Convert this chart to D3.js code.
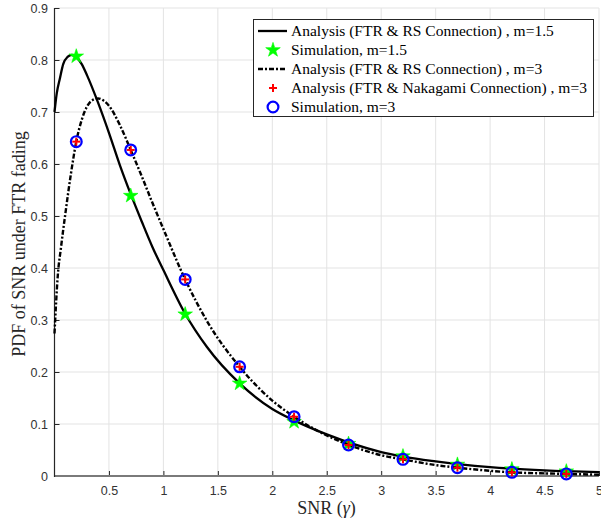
<!DOCTYPE html>
<html>
<head>
<meta charset="utf-8">
<script src="https://cdn.jsdelivr.net/npm/d3@7"></script>
<style>
  html, body { margin: 0; padding: 0; background: #fff; }
  svg { display: block; }
</style>
</head>
<body>
<svg id="chart" width="601" height="523"></svg>
<script>
// ---- data ----
const anaX15 = [0, 0.02, 0.05, 0.08, 0.12, 0.16, 0.2, 0.25, 0.3, 0.4, 0.5, 0.6, 0.7, 0.8, 0.9, 1.0, 1.2, 1.4, 1.7, 2.0, 2.2, 2.5, 3.0, 3.5, 4.0, 4.5, 5.0];
const anaY15 = [0.70, 0.735, 0.765, 0.792, 0.806, 0.81, 0.806, 0.792, 0.77, 0.718, 0.66, 0.598, 0.542, 0.49, 0.44, 0.396, 0.312, 0.248, 0.178, 0.129, 0.107, 0.08, 0.046, 0.028, 0.017, 0.011, 0.0075];

const anaX3 = [0, 0.03, 0.06, 0.1, 0.15, 0.2, 0.25, 0.3, 0.35, 0.4, 0.45, 0.5, 0.6, 0.7, 0.8, 0.9, 1.0, 1.2, 1.4, 1.7, 2.0, 2.2, 2.5, 2.7, 3.0, 3.2, 3.5, 3.7, 4.0, 4.2, 4.5, 4.7, 5.0];
const anaY3 = [0.274, 0.385, 0.44, 0.505, 0.58, 0.643, 0.685, 0.711, 0.723, 0.726, 0.722, 0.712, 0.675, 0.627, 0.577, 0.525, 0.475, 0.378, 0.298, 0.21, 0.145, 0.114, 0.078, 0.06, 0.04, 0.032, 0.021, 0.016, 0.01, 0.007, 0.005, 0.004, 0.0025];

const simX = [0.2, 0.7, 1.2, 1.7, 2.2, 2.7, 3.2, 3.7, 4.2, 4.7];
const simY15 = [0.807, 0.539, 0.311, 0.178, 0.104, 0.062, 0.038, 0.022, 0.013, 0.009];
const nakY3 = [0.643, 0.627, 0.378, 0.210, 0.114, 0.0596, 0.032, 0.016, 0.007, 0.004];
const simY3 = [0.643, 0.627, 0.378, 0.210, 0.114, 0.0596, 0.032, 0.016, 0.007, 0.004];

const xTicks = [0.5, 1, 1.5, 2, 2.5, 3, 3.5, 4, 4.5, 5];
const xTickLabels = ["0.5", "1", "1.5", "2", "2.5", "3", "3.5", "4", "4.5", "5"];
const yTicks = [0, 0.1, 0.2, 0.3, 0.4, 0.5, 0.6, 0.7, 0.8, 0.9];
const yTickLabels = ["0", "0.1", "0.2", "0.3", "0.4", "0.5", "0.6", "0.7", "0.8", "0.9"];

const legendLabels = [
  "Analysis (FTR & RS Connection) , m=1.5",
  "Simulation, m=1.5",
  "Analysis (FTR & RS Connection) , m=3",
  "Analysis (FTR & Nakagami Connection) , m=3",
  "Simulation, m=3"
];
const xLabelParts = ["SNR (", "\u03B3", ")"];
const yLabel = "PDF of SNR under FTR fading";

// ---- drawing ----
const svg = d3.select("#chart");
const x = d3.scaleLinear().domain([0, 5]).range([54.5, 599]);
const y = d3.scaleLinear().domain([0, 0.9]).range([476, 8]);

const serif = "'Liberation Serif', 'Times New Roman', Times, serif";
const sans = "'Liberation Sans', Arial, Helvetica, sans-serif";
const dashDot = "5,2,2,2";

// grid
const grid = svg.append("g");
grid.selectAll("line.gx").data(xTicks).join("line")
  .attr("x1", d => x(d)).attr("x2", d => x(d))
  .attr("y1", y(0)).attr("y2", y(0.9))
  .attr("stroke", "#e3e3e3").attr("stroke-width", 1);
grid.selectAll("line.gy").data(yTicks.filter(d => d > 0)).join("line")
  .attr("x1", x(0)).attr("x2", x(5))
  .attr("y1", d => y(d)).attr("y2", d => y(d))
  .attr("stroke", "#e3e3e3").attr("stroke-width", 1);

// axes
const xAxis = d3.axisBottom(x).tickValues(xTicks)
  .tickFormat((d, i) => xTickLabels[i]).tickSize(-5).tickPadding(10.5);
const gx = svg.append("g").attr("transform", `translate(0,${y(0)})`).call(xAxis);
gx.select(".domain").remove();
gx.selectAll(".tick line").attr("stroke", "#262626");
gx.selectAll("text").attr("font-family", sans).attr("font-size", 12.5).attr("fill", "#333");

const yAxis = d3.axisLeft(y).tickValues(yTicks)
  .tickFormat((d, i) => yTickLabels[i]).tickSize(-5).tickPadding(6.5);
const gy = svg.append("g").attr("transform", `translate(${x(0)},0)`).call(yAxis);
gy.select(".domain").remove();
gy.selectAll(".tick line").attr("stroke", "#262626");
gy.selectAll("text").attr("font-family", sans).attr("font-size", 12.5).attr("fill", "#333");

svg.append("line")
  .attr("x1", x(0)).attr("x2", x(5)).attr("y1", y(0)).attr("y2", y(0))
  .attr("stroke", "#7a7a7a").attr("stroke-width", 2);
svg.append("line")
  .attr("x1", x(0)).attr("x2", x(0)).attr("y1", y(0) + 1).attr("y2", y(0.9))
  .attr("stroke", "#262626").attr("stroke-width", 1.2);

// curves
const line = d3.line().x(d => x(d[0])).y(d => y(d[1])).curve(d3.curveMonotoneX);
const plot = svg.append("g");

plot.append("path").datum(d3.zip(anaX15, anaY15))
  .attr("d", line).attr("fill", "none").attr("stroke", "#000").attr("stroke-width", 2.3);

const starSym = d3.symbol().type(d3.symbolStar).size(66);
plot.selectAll("path.star").data(d3.zip(simX, simY15)).join("path")
  .attr("class", "star")
  .attr("transform", d => `translate(${x(d[0])},${y(d[1])})`)
  .attr("d", starSym).attr("fill", "#00ff00").attr("stroke", "#00ff00").attr("stroke-width", 0.6);

plot.append("path").datum(d3.zip(anaX3, anaY3))
  .attr("d", line).attr("fill", "none").attr("stroke", "#000").attr("stroke-width", 2.4)
  .attr("stroke-dasharray", dashDot);

function plus(g, cx, cy) {
  g.append("line").attr("x1", cx - 4).attr("x2", cx + 4).attr("y1", cy).attr("y2", cy)
    .attr("stroke", "#ff0000").attr("stroke-width", 2);
  g.append("line").attr("x1", cx).attr("x2", cx).attr("y1", cy - 4).attr("y2", cy + 4)
    .attr("stroke", "#ff0000").attr("stroke-width", 2);
}
d3.zip(simX, nakY3).forEach(d => plus(plot, x(d[0]), y(d[1])));

plot.selectAll("circle.sim3").data(d3.zip(simX, simY3)).join("circle")
  .attr("class", "sim3")
  .attr("cx", d => x(d[0])).attr("cy", d => y(d[1])).attr("r", 5.4)
  .attr("fill", "none").attr("stroke", "#0000ff").attr("stroke-width", 2.2);

// axis labels
const xl = svg.append("text").attr("x", 326.5).attr("y", 514)
  .attr("text-anchor", "middle").attr("font-family", serif).attr("font-size", 18)
  .attr("fill", "#262626");
xl.append("tspan").text(xLabelParts[0]);
xl.append("tspan").attr("font-style", "italic").text(xLabelParts[1]);
xl.append("tspan").text(xLabelParts[2]);

svg.append("text").attr("transform", "translate(25,244) rotate(-90)")
  .attr("text-anchor", "middle").attr("font-family", serif).attr("font-size", 18)
  .attr("fill", "#262626").text(yLabel);

// legend
const lg = svg.append("g");
lg.append("rect").attr("x", 253.5).attr("y", 19.5).attr("width", 340).attr("height", 97)
  .attr("fill", "#fff").attr("stroke", "#262626").attr("stroke-width", 1);
const rowY = i => 31 + i * 19;
lg.selectAll("text").data(legendLabels).join("text")
  .attr("x", 291).attr("y", (d, i) => rowY(i)).attr("dy", "0.35em")
  .attr("font-family", serif).attr("font-size", 15.5).attr("fill", "#000").text(d => d);
lg.append("line").attr("x1", 258).attr("x2", 287).attr("y1", rowY(0)).attr("y2", rowY(0))
  .attr("stroke", "#000").attr("stroke-width", 2.3);
lg.append("path").attr("transform", `translate(273,${rowY(1)})`).attr("d", starSym)
  .attr("fill", "#00ff00").attr("stroke", "#00ff00").attr("stroke-width", 0.6);
lg.append("line").attr("x1", 258).attr("x2", 287).attr("y1", rowY(2)).attr("y2", rowY(2))
  .attr("stroke", "#000").attr("stroke-width", 2.4).attr("stroke-dasharray", dashDot);
plus(lg, 273, rowY(3));
lg.append("circle").attr("cx", 273).attr("cy", rowY(4)).attr("r", 5.4)
  .attr("fill", "none").attr("stroke", "#0000ff").attr("stroke-width", 2.2);
</script>
</body>
</html>
